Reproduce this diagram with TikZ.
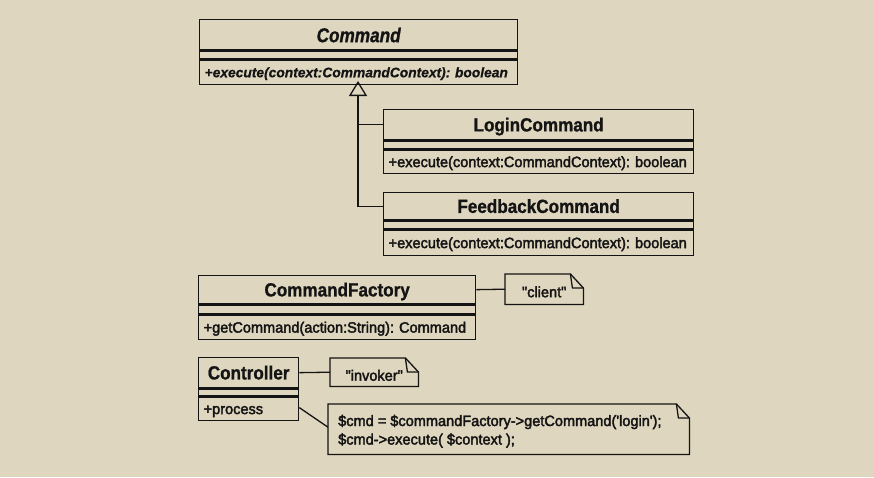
\documentclass[tikz,border=0pt]{standalone}
\usetikzlibrary{arrows.meta}
\definecolor{bg}{HTML}{DED6BE}
\definecolor{ink}{HTML}{141414}
\font\ttlF="Liberation Sans/B:extend=0.9;embolden=1" at 19pt
\font\ttlIF="Liberation Sans/BI:extend=0.86;embolden=1" at 20pt
\font\opF="Liberation Sans:extend=0.97;embolden=2.5" at 15pt
\font\opBIF="Liberation Sans/BI:embolden=0.5" at 13.8pt
\frenchspacing
\newcommand\notebox[1]{%
  \draw[ln] (#1.north west) -- ([xshift=-13pt]#1.north east) -- ([yshift=-14pt]#1.north east) -- (#1.south east) -- (#1.south west) -- cycle;
  \draw[ln] ([xshift=-13pt]#1.north east) -- ([xshift=-11pt,yshift=-14pt]#1.north east) -- ([yshift=-14pt]#1.north east);}
\tikzset{
  ln/.style={draw=ink, line width=1.3pt, line join=miter},
  comp/.style={ln, fill=bg, inner xsep=5pt, inner ysep=0pt, anchor=north west, text=ink},
  ttl/.style={comp, align=center, font=\ttlF, text height=13.5pt, text depth=0pt},
  ops/.style={comp, align=left, font=\opF\frenchspacing, text height=10.7pt, text depth=0pt},
  notenode/.style={inner xsep=6pt, inner ysep=0pt, anchor=north west, align=left, font=\opF, text=ink, text height=16pt, text depth=0pt},
  notetext/.style={inner sep=0pt, anchor=base west, font=\opF\frenchspacing, text=ink},
}
\begin{document}
\begin{tikzpicture}[x=1pt,y=-1pt]
\fill[bg] (0,0) rectangle (874,477);
\useasboundingbox (0,0) rectangle (874,477);
% Command
\node[ttl, text width=308pt, minimum height=30pt, font=\ttlIF, text height=15pt] (cmdN) at (199,19) {Command};
\node[comp, text width=308pt, minimum height=8pt] (cmdA) at (cmdN.south west) {};
\node[ops, text width=308pt, minimum height=24pt, font=\opBIF\frenchspacing, text height=10pt] (cmdO) at (cmdA.south west) {\mbox{+execute(context:CommandContext): boolean}};
% LoginCommand
\node[ttl, text width=300pt, minimum height=30pt] (logN) at (383,109) {LoginCommand};
\node[comp, text width=300pt, minimum height=8pt] (logA) at (logN.south west) {};
\node[ops, text width=300pt, minimum height=23pt] (logO) at (logA.south west) {\mbox{+execute(context:CommandContext): boolean}};
% FeedbackCommand
\node[ttl, text width=300pt, minimum height=27pt] (fbN) at (383,192) {FeedbackCommand};
\node[comp, text width=300pt, minimum height=8pt] (fbA) at (fbN.south west) {};
\node[ops, text width=300pt, minimum height=25pt] (fbO) at (fbA.south west) {\mbox{+execute(context:CommandContext): boolean}};
% CommandFactory
\node[ttl, text width=267pt, minimum height=28pt] (cfN) at (198,275) {CommandFactory};
\node[comp, text width=267pt, minimum height=9pt] (cfA) at (cfN.south west) {};
\node[ops, text width=267pt, minimum height=24pt] (cfO) at (cfA.south west) {\mbox{+getCommand(action:String): Command}};
% Controller
\node[ttl, text width=90pt, minimum height=30pt] (ctN) at (198,357) {Controller};
\node[comp, text width=90pt, minimum height=7pt] (ctA) at (ctN.south west) {};
\node[ops, text width=90pt, minimum height=23pt] (ctO) at (ctA.south west) {+process};
% notes
\node[notenode, minimum width=78pt, minimum height=30pt] (client) at (505,274) {"client"};
\notebox{client}
\node[notenode, minimum width=88pt, minimum height=28pt, text height=17pt] (invoker) at (330,358) {"invoker"};
\notebox{invoker}
\node[inner sep=0pt, anchor=north west, minimum width=361pt, minimum height=50pt] (code) at (328,404) {};
\notebox{code}
\node[notetext] (code1) at ([xshift=10pt,yshift=-22pt]code.north west) {\$cmd = \$commandFactory->getCommand('login');};
\node[notetext] (code2) at ([xshift=10pt,yshift=-40.5pt]code.north west) {\$cmd->execute( \$context );};
% generalization
\coordinate (tip) at (358,81);
\draw[ln, -{Triangle[open, length=15pt, width=18pt, line width=1.3pt]}] (fbN.west) -| (tip);
\draw[ln] (logN.west) -- (logN.west -| tip);
% note links
\draw[ln] (cfN.east) -- (client.west);
\draw[ln] (ctN.east) -- (invoker.west);
\draw[ln] ([yshift=-11pt]ctO.north east) -- ([yshift=2pt]code.west);
\end{tikzpicture}
\end{document}
